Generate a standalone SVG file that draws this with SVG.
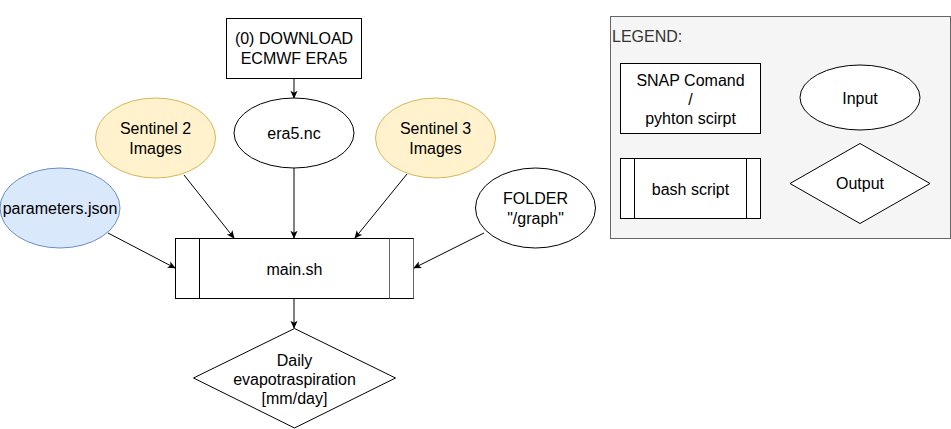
<svg xmlns="http://www.w3.org/2000/svg" width="951" height="429" viewBox="0 0 951 429">
<defs>
<marker id="arr" viewBox="0 0 10 10" refX="9" refY="5" markerWidth="9" markerHeight="8" markerUnits="userSpaceOnUse" orient="auto">
<path d="M0,0.5 L10,5 L0,9.5 L2.5,5 z" fill="#000"/>
</marker>
</defs>
<style>
text{font-family:"Liberation Sans",Arial,Helvetica,sans-serif;font-size:16px;fill:#000;text-anchor:middle}
.w{fill:#fff;stroke:#000;stroke-width:1}
.y{fill:#fff2cc;stroke:#d6b656;stroke-width:1}
.b{fill:#dae8fc;stroke:#6c8ebf;stroke-width:1}
.e{fill:none;stroke:#000;stroke-width:1;marker-end:url(#arr)}
.g{stroke:#666}
</style>
<rect width="951" height="429" fill="#fff"/>

<g id="legend">
<rect x="610.5" y="16.5" width="340" height="222" fill="#f5f5f5" stroke="#666"/>
<text x="612" y="41.5" style="text-anchor:start;fill:#333">LEGEND:</text>
</g>
<g id="leg-snap">
<rect class="w" x="620.5" y="63.5" width="140" height="70"/>
<text x="690.5" y="86">SNAP Comand</text>
<text x="690.5" y="105">/</text>
<text x="690.5" y="124">pyhton scirpt</text>
</g>
<g id="leg-bash">
<rect class="w" x="620.5" y="158.5" width="140" height="60"/>
<line class="w" x1="634.5" y1="158.5" x2="634.5" y2="218.5"/>
<line class="w" x1="746.5" y1="158.5" x2="746.5" y2="218.5"/>
<text x="690.5" y="194.5">bash script</text>
</g>
<g id="leg-input">
<ellipse class="w" cx="860" cy="97.5" rx="60" ry="32.5"/>
<text x="860" y="103.5">Input</text>
</g>
<g id="leg-output">
<polygon class="w" points="860,143.5 930,183.5 860,223.5 790,183.5"/>
<text x="860" y="189">Output</text>
</g>

<g id="connectors">
<line class="e" x1="294" y1="78.5" x2="294" y2="98"/>
<line class="e" x1="184" y1="175" x2="234" y2="238"/>
<line class="e" x1="294" y1="168" x2="294" y2="238"/>
<line class="e" x1="407" y1="174" x2="355" y2="238"/>
<line class="e" x1="108" y1="233" x2="175" y2="268"/>
<line class="e" x1="484" y1="233" x2="414" y2="268"/>
<line class="e" x1="294" y1="298.5" x2="294" y2="328"/>
</g>

<g id="download">
<rect class="w" x="226.5" y="18.5" width="135" height="60"/>
<text x="294" y="44">(0) DOWNLOAD</text>
<text x="294" y="64">ECMWF ERA5</text>
</g>
<g id="era5">
<ellipse class="w" cx="294" cy="133" rx="60" ry="35"/>
<text x="294" y="139">era5.nc</text>
</g>
<g id="sentinel2">
<ellipse class="y" cx="155.5" cy="138" rx="60" ry="40"/>
<text x="155.5" y="134">Sentinel 2</text>
<text x="155.5" y="154">Images</text>
</g>
<g id="sentinel3">
<ellipse class="y" cx="435.5" cy="138" rx="60" ry="40"/>
<text x="435.5" y="134">Sentinel 3</text>
<text x="435.5" y="154">Images</text>
</g>
<g id="parameters">
<ellipse class="b" cx="60" cy="208" rx="60" ry="40"/>
<text x="60" y="214">parameters.json</text>
</g>
<g id="folder">
<ellipse class="w" cx="535.5" cy="208" rx="60" ry="40"/>
<text x="535.5" y="204">FOLDER</text>
<text x="535.5" y="224">"/graph"</text>
</g>
<g id="main">
<rect class="w" x="175.5" y="238.5" width="238" height="60"/>
<line class="w" x1="199.5" y1="238.5" x2="199.5" y2="298.5"/>
<line class="w g" x1="389.5" y1="238.5" x2="389.5" y2="298.5"/>
<line class="w g" x1="413.5" y1="238.5" x2="413.5" y2="298.5"/>
<text x="294.5" y="274.5">main.sh</text>
</g>
<g id="output">
<polygon class="w" points="294.5,328.5 395.5,378 294.5,428 193.5,378"/>
<text x="294.5" y="365.5">Daily</text>
<text x="294.5" y="384.5">evapotraspiration</text>
<text x="294.5" y="404">[mm/day]</text>
</g>
</svg>
